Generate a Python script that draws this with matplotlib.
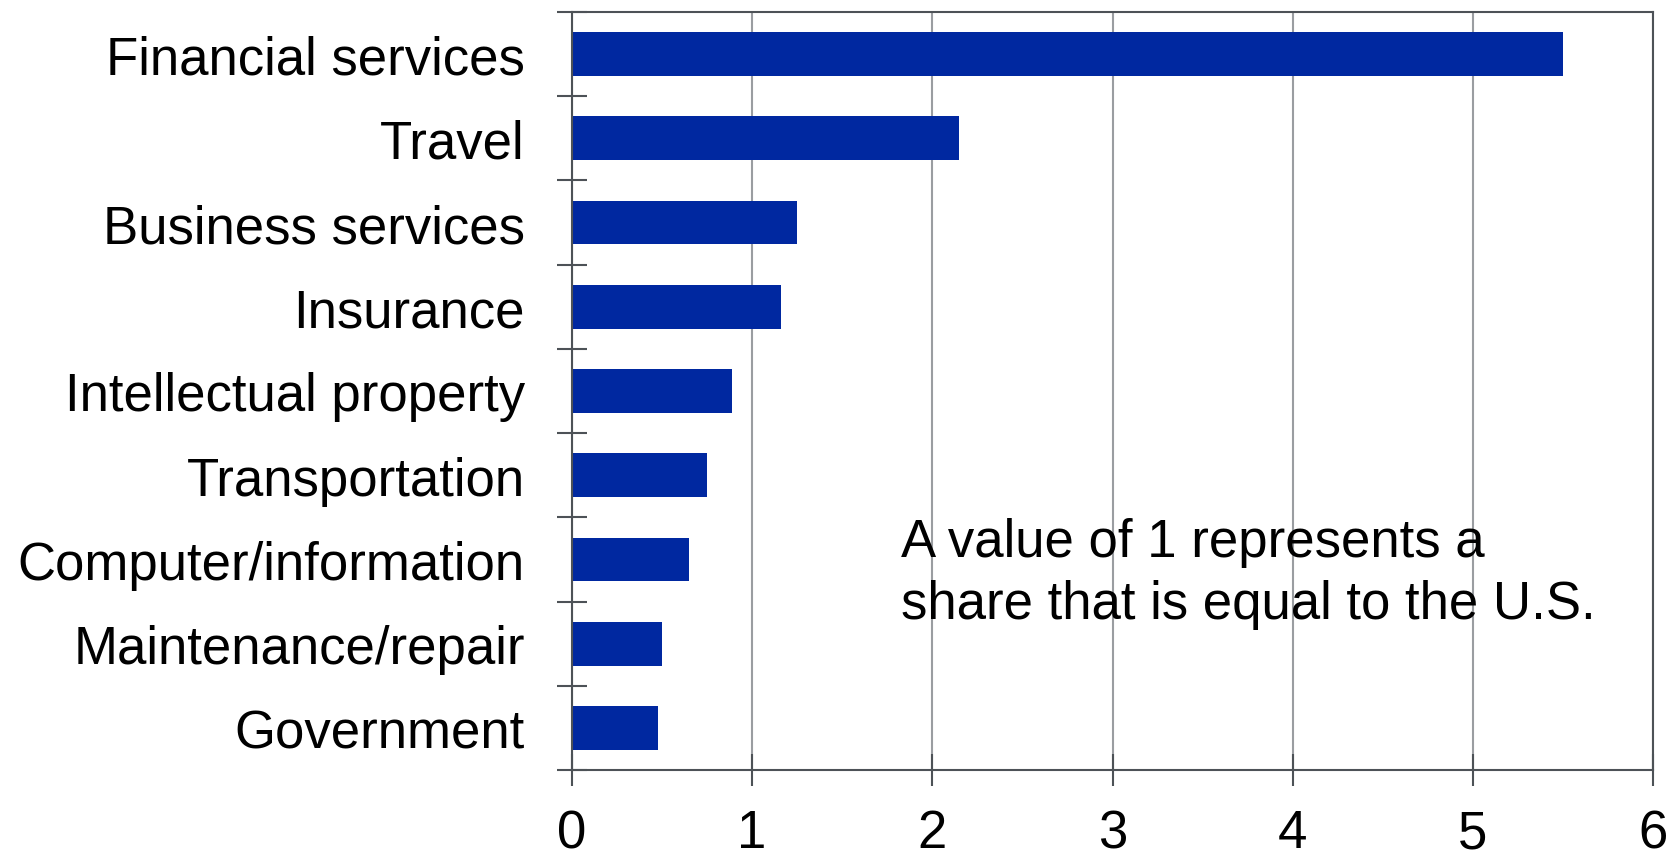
import matplotlib
matplotlib.use("Agg")
import matplotlib.pyplot as plt
import numpy as np

categories = ["Financial services", "Travel", "Business services", "Insurance",
              "Intellectual property", "Transportation", "Computer/information",
              "Maintenance/repair", "Government"]
values = [5.50, 2.15, 1.25, 1.16, 0.89, 0.75, 0.65, 0.50, 0.48]
x_ticks = [0, 1, 2, 3, 4, 5, 6]
note = "A value of 1 represents a\nshare that is equal to the U.S."

plt.rcParams['font.family'] = ['Liberation Sans', 'DejaVu Sans']

W, H = 1669, 853
fig = plt.figure(figsize=(W / 100, H / 100), dpi=100)
ax = fig.add_axes([572 / W, 1 - 771 / H, (1653 - 572) / W, (771 - 13) / H])

n = len(categories)
ypos = np.arange(n)
ax.barh(ypos, values, height=0.52, color="#0028A0", zorder=2)

ax.set_xlim(0, 6)
ax.set_ylim(n - 0.5, -0.5)

spine_c = "#4d5257"
for s in ax.spines.values():
    s.set_color(spine_c)
    s.set_linewidth(1.5)

ax.set_xticks(x_ticks)
ax.set_xticklabels([str(t) for t in x_ticks])
ax.xaxis.grid(True, color="#9a9da1", linewidth=1.5, zorder=0)
ax.set_axisbelow(True)
ax.tick_params(axis='x', direction='inout', length=23, width=1.5, color=spine_c,
               labelsize=38, pad=16)

ax.set_yticks(ypos)
ax.set_yticklabels(categories)
ax.set_yticks(np.arange(n + 1) - 0.5, minor=True)
ax.tick_params(axis='y', which='major', length=0, labelsize=38, pad=34)
ax.tick_params(axis='y', which='minor', direction='inout', length=22, width=1.5,
               color=spine_c)

ax.text((901 - 572) / (1653 - 572), 1 - (518 - 13) / (771 - 13), note,
        transform=ax.transAxes, fontsize=38, ha='left', va='top',
        linespacing=1.31, color='black')

fig.savefig("out.png", dpi=100)
